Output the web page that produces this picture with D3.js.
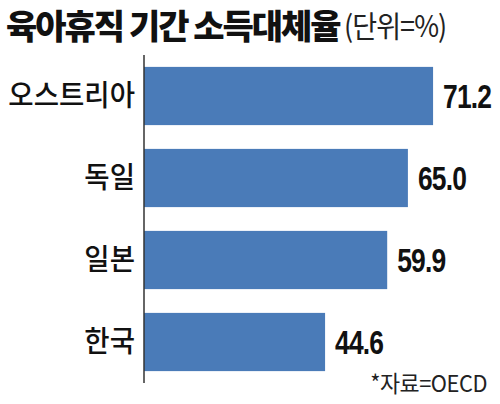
<!DOCTYPE html>
<html><head><meta charset="utf-8">
<script src="https://cdn.jsdelivr.net/npm/d3@7"></script>
<style>
html,body{margin:0;padding:0;background:#fff;}
svg{display:block;}
</style></head>
<body>
<script>
const categories = ["오스트리아", "독일", "일본", "한국"];
const values = [71.2, 65.0, 59.9, 44.6];
const valueLabels = ["71.2", "65.0", "59.9", "44.6"];
const titleMain = "육아휴직 기간 소득대체율";
const titleUnit = "(단위=%)";
const source = "*자료=OECD";

const W = 500, H = 404;
const svg = d3.select("body").append("svg").attr("width", W).attr("height", H);

const x0 = 144;
const x = d3.scaleLinear().domain([0, 100]).range([x0, x0 + 406]);
const y = d3.scaleBand().domain(categories).range([55, 383]).paddingInner(0.29).paddingOuter(0.145);

svg.append("g").selectAll("rect").data(categories).join("rect")
  .attr("x", x(0)).attr("y", d => y(d))
  .attr("width", (d, i) => x(values[i]) - x(0))
  .attr("height", y.bandwidth())
  .attr("fill", "#4a7bb8");

svg.append("line").attr("x1", x0).attr("x2", x0).attr("y1", 55).attr("y2", 383)
  .attr("stroke", "#333").attr("stroke-width", 1.5);

const kr = "'Noto Sans CJK KR', 'Noto Sans', sans-serif";

svg.append("g").selectAll("text").data(categories).join("text")
  .attr("transform", d => `translate(135,${y(d) + y.bandwidth() / 2}) scale(0.95,1)`)
  .attr("dy", "0.36em")
  .attr("text-anchor", "end")
  .attr("font-family", kr).attr("font-weight", 500).attr("font-size", 29).attr("letter-spacing", 0)
  .attr("fill", "#111")
  .text(d => d);

svg.append("g").selectAll("text").data(categories).join("text")
  .attr("transform", (d, i) => `translate(${x(values[i]) + 10},${y(d) + y.bandwidth() / 2}) scale(0.8,1)`)
  .attr("dy", "0.36em")
  .attr("font-family", "'Liberation Sans Narrow', 'Arial Narrow', 'Liberation Sans', sans-serif")
  .attr("font-weight", 700).attr("font-size", 33).attr("letter-spacing", -1)
  .attr("fill", "#111")
  .text((d, i) => valueLabels[i]);

svg.append("text").attr("x", 6).attr("y", 39)
  .attr("font-family", kr).attr("font-weight", 900).attr("font-size", 34).attr("letter-spacing", -2)
  .attr("fill", "#111").text(titleMain);

svg.append("text").attr("transform", "translate(344,37) scale(0.9,1)")
  .attr("font-family", kr).attr("font-size", 30).attr("letter-spacing", -1)
  .attr("fill", "#222").text(titleUnit);

svg.append("text").attr("transform", "translate(487,392) scale(0.95,1)").attr("text-anchor", "end")
  .attr("font-family", kr).attr("font-size", 23).attr("letter-spacing", -0.5)
  .attr("fill", "#222").text(source);
</script>
</body></html>
